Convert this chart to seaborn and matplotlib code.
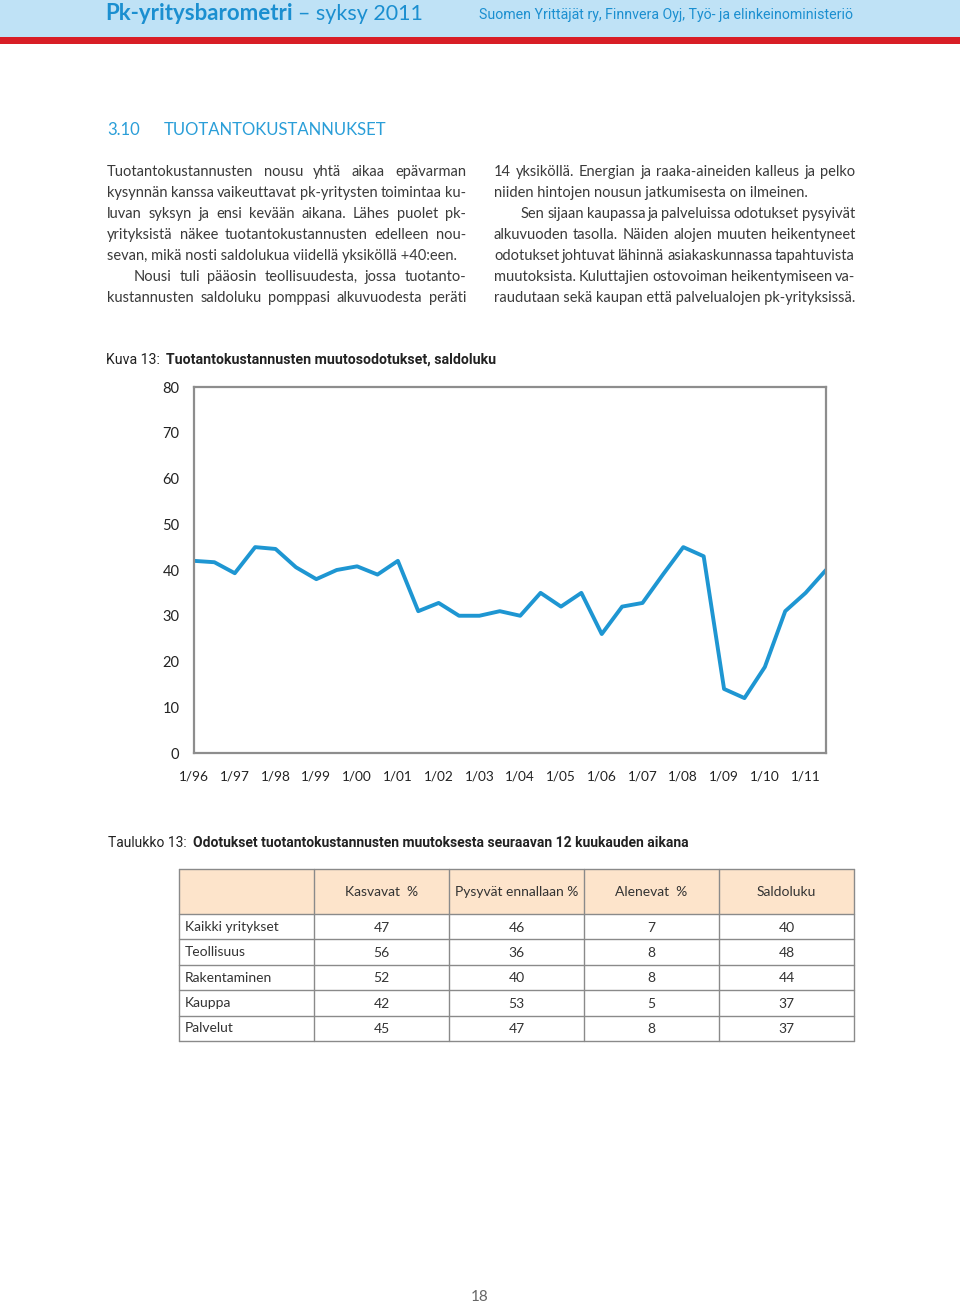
import numpy as np
import pandas as pd
import matplotlib
matplotlib.use("Agg")
import matplotlib.pyplot as plt
from matplotlib.patches import Rectangle
import seaborn as sns

sns.set_style("white")
plt.rcParams['font.family'] = ['Lato', 'DejaVu Sans']

# ============================================================
# Data
# ============================================================
years = ["96", "97", "98", "99", "00", "01", "02", "03",
         "04", "05", "06", "07", "08", "09", "10", "11"]
periods = [f"{m}/{y}" for y in years for m in ("1", "7")]
saldo = [42, 41.7, 39.3, 45, 44.6, 40.6, 38, 40, 40.8, 39, 42,
         31, 32.8, 30, 30, 31, 30, 35, 32, 35, 26, 32, 32.8,
         39, 45, 43, 14, 12, 18.8, 31, 35, 40]

row_labels = ["Kaikki yritykset", "Teollisuus", "Rakentaminen", "Kauppa", "Palvelut"]
col_headers = ["Kasvavat  %", "Pysyvät ennallaan %", "Alenevat  %", "Saldoluku"]
kasvavat = [47, 56, 52, 42, 45]
pysyvat = [46, 36, 40, 53, 47]
alenevat = [7, 8, 8, 5, 8]
saldoluku = [40, 48, 44, 37, 37]

left_col = [
    ("Tuotantokustannusten nousu yhtä aikaa epävarman", True, False),
    ("kysynnän kanssa vaikeuttavat pk-yritysten toimintaa ku-", True, False),
    ("luvan syksyn ja ensi kevään aikana. Lähes puolet pk-", True, False),
    ("yrityksistä näkee tuotantokustannusten edelleen nou-", True, False),
    ("sevan, mikä nosti saldolukua viidellä yksiköllä +40:een.", False, False),
    ("Nousi tuli pääosin teollisuudesta, jossa tuotanto-", True, True),
    ("kustannusten saldoluku pomppasi alkuvuodesta peräti", True, False),
]
right_col = [
    ("14 yksiköllä. Energian ja raaka-aineiden kalleus ja pelko", True, False),
    ("niiden hintojen nousun jatkumisesta on ilmeinen.", False, False),
    ("Sen sijaan kaupassa ja palveluissa odotukset pysyivät", True, True),
    ("alkuvuoden tasolla. Näiden alojen muuten heikentyneet", True, False),
    ("odotukset johtuvat lähinnä asiakaskunnassa tapahtuvista", True, False),
    ("muutoksista. Kuluttajien ostovoiman heikentymiseen va-", True, False),
    ("raudutaan sekä kaupan että palvelualojen pk-yrityksissä.", False, False),
]

# ============================================================
# Page
# ============================================================
W, H = 960, 1304
BLUE = "#1e96d2"
NARROW = ['Liberation Sans Narrow', 'Roboto', 'DejaVu Sans']
TXT = "#3a3a3a"

fig = plt.figure(figsize=(W / 100, H / 100), dpi=100)
bg = fig.add_axes([0, 0, 1, 1])
bg.set_xlim(0, W)
bg.set_ylim(H, 0)
bg.axis("off")
renderer = fig.canvas.get_renderer()


def wpx(t):
    return t.get_window_extent(renderer).width


def put_line(x0, x1, y, s, justify, **kw):
    words = s.split(" ")
    if not justify or len(words) == 1:
        bg.text(x0, y, s, va="baseline", **kw)
        return
    arts = [bg.text(0, y, w, va="baseline", **kw) for w in words]
    ws = [wpx(a) for a in arts]
    gap = (x1 - x0 - sum(ws)) / (len(words) - 1)
    x = x0
    for a, w in zip(arts, ws):
        a.set_x(x)
        x += w + gap


# header bands
bg.add_patch(Rectangle((0, 0), W, 37, color="#bfe2f6", lw=0))
bg.add_patch(Rectangle((0, 37), W, 7, color="#d81e26", lw=0))
t = bg.text(105, 20, "Pk-yritysbarometri", fontsize=16, fontweight="bold",
            color="#1b8fd0", va="baseline")
bg.text(105 + wpx(t) + 5, 20, "– syksy 2011", fontsize=15.5, color="#1b8fd0", va="baseline")
bg.text(853, 19, "Suomen Yrittäjät ry, Finnvera Oyj, Työ- ja elinkeinoministeriö",
        fontsize=10.2, family=NARROW, color="#1b8fd0", ha="right", va="baseline")

# section title
bg.text(107, 135, "3.10", fontsize=12, color="#2a9ed8", va="baseline")
bg.text(164, 135, "TUOTANTOKUSTANNUKSET", fontsize=12, color="#2a9ed8", va="baseline")

# body text
for i, (s, j, ind) in enumerate(left_col):
    put_line(107 + (27 if ind else 0), 466, 176 + 21 * i, s, j, fontsize=10.5, color=TXT)
for i, (s, j, ind) in enumerate(right_col):
    put_line(494 + (27 if ind else 0), 855, 176 + 21 * i, s, j, fontsize=10.5, color=TXT)

# figure caption
t = bg.text(106, 364, "Kuva 13:", fontsize=10.2, family=NARROW, color="#222", va="baseline")
bg.text(106 + wpx(t) + 6, 364, "Tuotantokustannusten muutosodotukset, saldoluku",
        fontsize=10.2, family=NARROW, fontweight="bold", color="#222", va="baseline")

# ============================================================
# Chart
# ============================================================
ax = fig.add_axes([194 / W, 1 - 753 / H, 632 / W, 366 / H])
df = pd.DataFrame({"period": periods, "idx": np.arange(len(periods)), "saldo": saldo})
sns.lineplot(data=df, x="idx", y="saldo", ax=ax, color=BLUE, linewidth=2.8)
ax.set_xlim(0, len(periods) - 1)
ax.set_ylim(0, 80)
ax.set_yticks(range(0, 81, 10))
ax.set_xticks(df["idx"])
ax.set_xticklabels([p if p.startswith("1/") else "" for p in periods])
ax.set_xlabel("")
ax.set_ylabel("")
for sp in ax.spines.values():
    sp.set_visible(True)
    sp.set_color("#8d8d8d")
    sp.set_linewidth(1.6)
ax.tick_params(axis="y", length=3.5, width=1.2, color="#8d8d8d", pad=7,
               labelsize=10.5, labelcolor="#222")
ax.tick_params(axis="x", length=3.5, width=1.2, color="#8d8d8d", pad=9,
               labelsize=9.8, labelcolor="#222")

# ============================================================
# Table
# ============================================================
t = bg.text(108, 847, "Taulukko 13:", fontsize=10, family=NARROW, color="#222", va="baseline")
bg.text(108 + wpx(t) + 6, 847,
        "Odotukset tuotantokustannusten muutoksesta seuraavan 12 kuukauden aikana",
        fontsize=10, family=NARROW, fontweight="bold", color="#222", va="baseline")

tx0, cw = 179, 135
ty0, hh, rh = 869, 45, 25.4
ncol = len(col_headers) + 1
nrow = len(row_labels)
tx1 = tx0 + cw * ncol
ty1 = ty0 + hh + rh * nrow
bg.add_patch(Rectangle((tx0, ty0), cw * ncol, hh, facecolor="#fde4cb", edgecolor="none"))
for k in range(ncol + 1):
    bg.plot([tx0 + cw * k] * 2, [ty0, ty1], color="#8a8a8a", lw=1)
for y in [ty0] + [ty0 + hh + rh * k for k in range(nrow + 1)]:
    bg.plot([tx0, tx1], [y, y], color="#8a8a8a", lw=1)
for k, h in enumerate(col_headers):
    bg.text(tx0 + cw * (k + 1.5), ty0 + hh / 2, h, fontsize=10, color="#333",
            ha="center", va="center")
cols = [kasvavat, pysyvat, alenevat, saldoluku]
for r, lab in enumerate(row_labels):
    yc = ty0 + hh + rh * (r + 0.5)
    bg.text(tx0 + 6, yc, lab, fontsize=10, color="#333", va="center")
    for k, col in enumerate(cols):
        bg.text(tx0 + cw * (k + 1.5), yc + 1, str(col[r]), fontsize=10, color="#333",
                ha="center", va="center")

# page number
bg.text(480, 1297, "18", fontsize=11, color="#666", ha="center", va="center")

fig.savefig("out.png", dpi=100)
